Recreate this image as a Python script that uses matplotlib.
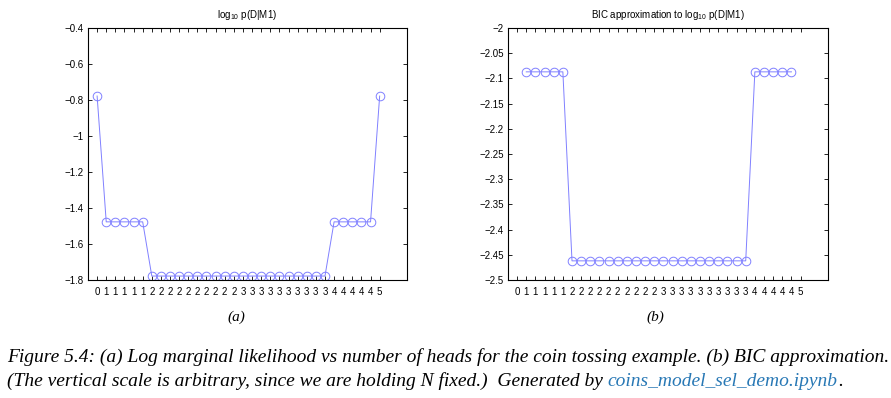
import numpy as np
import matplotlib
matplotlib.use("Agg")
import matplotlib.pyplot as plt
from matplotlib.ticker import FixedLocator, FixedFormatter

# ---- data ----
num_heads = [0, 1, 1, 1, 1, 1,
             2, 2, 2, 2, 2, 2, 2, 2, 2, 2,
             3, 3, 3, 3, 3, 3, 3, 3, 3, 3,
             4, 4, 4, 4, 4, 5]
log_marglik = [-0.778, -1.477, -1.477, -1.477, -1.477, -1.477,
               -1.778, -1.778, -1.778, -1.778, -1.778, -1.778, -1.778, -1.778, -1.778, -1.778,
               -1.778, -1.778, -1.778, -1.778, -1.778, -1.778, -1.778, -1.778, -1.778, -1.778,
               -1.477, -1.477, -1.477, -1.477, -1.477, -0.778]
bic_approx = [np.nan, -2.087, -2.087, -2.087, -2.087, -2.087,
              -2.462, -2.462, -2.462, -2.462, -2.462, -2.462, -2.462, -2.462, -2.462, -2.462,
              -2.462, -2.462, -2.462, -2.462, -2.462, -2.462, -2.462, -2.462, -2.462, -2.462,
              -2.087, -2.087, -2.087, -2.087, -2.087, np.nan]
left_yticks = [-1.8, -1.6, -1.4, -1.2, -1.0, -0.8, -0.6, -0.4]
left_ylabels = ["\u22121.8", "\u22121.6", "\u22121.4", "\u22121.2", "\u22121", "\u22120.8", "\u22120.6", "\u22120.4"]
right_yticks = [-2.5, -2.45, -2.4, -2.35, -2.3, -2.25, -2.2, -2.15, -2.1, -2.05, -2.0]
right_ylabels = ["\u22122.5", "\u22122.45", "\u22122.4", "\u22122.35", "\u22122.3", "\u22122.25",
                 "\u22122.2", "\u22122.15", "\u22122.1", "\u22122.05", "\u22122"]
titles = ["log$_{10}$ p(D|M1)", "BIC approximation to log$_{10}$ p(D|M1)"]

W, H = 891, 398
fig = plt.figure(figsize=(W / 100, H / 100), dpi=100)
plt.rcParams['font.family'] = ['Liberation Sans', 'DejaVu Sans']
plt.rcParams['mathtext.fontset'] = 'custom'
plt.rcParams['mathtext.rm'] = 'Liberation Sans'

line_color = "#8080ff"
x = np.arange(1, len(num_heads) + 1)


def px_axes(l, r, t, b):
    return [l / W, 1 - b / H, (r - l) / W, (b - t) / H]


specs = [
    (px_axes(88, 407, 28, 280), log_marglik, left_yticks, left_ylabels, (-1.8, -0.4)),
    (px_axes(508, 828, 28, 280), bic_approx, right_yticks, right_ylabels, (-2.5, -2.0)),
]

for i, (pos, vals, yt, yl, ylim) in enumerate(specs):
    ax = fig.add_axes(pos)
    ax.plot(x, vals, color=line_color, lw=0.7, marker='o', ms=6.2,
            mfc='none', mec=line_color, mew=0.7, clip_on=True)
    ax.set_xlim(0, 35)
    ax.set_ylim(*ylim)
    ax.xaxis.set_major_locator(FixedLocator(list(x)))
    ax.xaxis.set_major_formatter(FixedFormatter([str(h) for h in num_heads]))
    ax.yaxis.set_major_locator(FixedLocator(yt))
    ax.yaxis.set_major_formatter(FixedFormatter(yl))
    ax.tick_params(direction='in', top=True, right=True, length=3, width=0.6,
                   labelsize=7, pad=3)
    ax.tick_params(axis='x', pad=5)
    for s in ax.spines.values():
        s.set_linewidth(0.8)
    ax.set_title(titles[i], fontsize=7, pad=7)

# sub-captions
serif = ['Liberation Serif', 'DejaVu Serif']
fig.text(236 / W, 1 - 317 / H, "(a)", ha='center', va='center', fontsize=11,
         style='italic', family=serif)
fig.text(655 / W, 1 - 317 / H, "(b)", ha='center', va='center', fontsize=11,
         style='italic', family=serif)

line1 = ("Figure 5.4: (a) Log marginal likelihood vs number of heads for the coin tossing "
         "example. (b) BIC approximation.")
line2a = "(The vertical scale is arbitrary, since we are holding N fixed.)  Generated by "
line2b = "coins_model_sel_demo.ipynb"
line2c = "."

fs = 14
t1 = fig.text(7 / W, 1 - 357 / H, line1, ha='left', va='center', fontsize=fs,
              style='italic', family=serif)
t2 = fig.text(7 / W, 1 - 381 / H, line2a, ha='left', va='center', fontsize=fs,
              style='italic', family=serif)
fig.canvas.draw()
r = fig.canvas.get_renderer()
bb = t2.get_window_extent(r)
t3 = fig.text(bb.x1 / W, 1 - 381 / H, line2b, ha='left', va='center', fontsize=fs,
              style='italic', family=serif, color='#2878b5')
fig.canvas.draw()
bb3 = t3.get_window_extent(r)
fig.text(bb3.x1 / W, 1 - 381 / H, line2c, ha='left', va='center', fontsize=fs,
         style='italic', family=serif)

fig.savefig("out.png", dpi=100)
